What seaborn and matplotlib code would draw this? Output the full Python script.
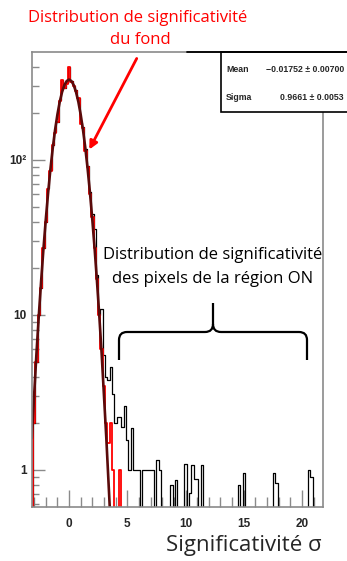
import numpy as np
import pandas as pd
import matplotlib
matplotlib.use("Agg")
import matplotlib.pyplot as plt
import seaborn as sns
from matplotlib.path import Path
from matplotlib.patches import PathPatch, Rectangle
from matplotlib.lines import Line2D
from matplotlib.ticker import FixedLocator, MultipleLocator, LogLocator, NullFormatter

# bins of width 0.2 sigma
bin_width = 0.2
bin_range = (-3.3, 21.7)
bin_centers = np.round(np.arange(-3.2, 21.7, 0.2), 2)

# background (OFF) histogram, bins centred -3.2 ... 4.6
bkg_counts = [0, 2.0, 5.0, 10, 15, 27, 40, 65, 85, 125, 150,
              175, 240, 330, 290, 310, 400, 320, 300, 280, 250,
              170, 160, 115, 90, 60, 43, 27, 17, 10, 6,
              3.5, 2.0, 1.5, 2.0, 1.0, 0, 0, 1.0, 0]

# ON region histogram, same core bins
on_core = [0, 2.0, 5.0, 10, 15, 27, 40, 66, 86, 125, 152,
           176, 242, 330, 292, 312, 400, 322, 302, 282, 252,
           172, 162, 118, 92, 62, 45, 36, 18, 10, 11,
           5.5, 4.0, 3.8, 4.6, 3.1, 2.0, 2.2, 2.2, 1.9]

# ON region tail (bin centre, value)
tail_centers = [4.8, 5.0, 5.2, 5.4, 5.6, 5.8, 6.0, 6.4, 6.6, 6.8, 7.0, 7.2,
                7.6, 7.8, 8.8, 9.2, 10.0, 10.4, 10.6, 10.8, 11.0, 11.4,
                14.6, 15.0, 17.6, 17.8, 20.6, 20.8]
tail_values = [2.6, 1.56, 1.0, 1.87, 1.0, 1.0, 1.0, 1.0, 1.0, 1.0, 1.0, 1.0,
               1.16, 1.0, 0.8, 0.86, 1.1, 0.71, 1.08, 0.88, 0.87, 1.08,
               0.8, 0.96, 0.96, 0.82, 1.0, 0.9]

# gaussian fit curve
fit_x = [-3.2, -3.0, -2.8, -2.6, -2.4, -2.2, -2.0, -1.8, -1.6, -1.4, -1.2, -1.0,
         -0.8, -0.6, -0.4, -0.2, 0.0, 0.2, 0.4, 0.6, 0.8, 1.0, 1.2, 1.4,
         1.6, 1.8, 2.0, 2.2, 2.4, 2.6, 2.8, 3.0, 3.2, 3.4, 3.6]
fit_y = [1.6, 3.0, 5.6, 9.8, 16.4, 26.5, 41, 61, 87, 119, 156, 196,
         237, 274, 304, 323, 330, 323, 304, 274, 237, 196, 156, 119,
         87, 61, 41, 26.5, 16.4, 9.8, 5.6, 3.0, 1.6, 0.8, 0.4]

x_ticks = [0, 5, 10, 15, 20]
y_ticks = [1, 10, 100]
y_tick_labels = ["1", "10", "10\u00b2"]

stats_names = ["Mean", "Sigma"]
stats_values = ["\u22120.01752 \u00b1 0.00700", "0.9661 \u00b1 0.0053"]

# build full tables
bkg = np.zeros(len(bin_centers))
bkg[:len(bkg_counts)] = bkg_counts
on = np.zeros(len(bin_centers))
on[:len(on_core)] = on_core
for c, v in zip(tail_centers, tail_values):
    on[np.argmin(np.abs(bin_centers - c))] = v
df = pd.DataFrame({"sig": bin_centers, "on": on, "bkg": bkg})
fit_df = pd.DataFrame({"x": fit_x, "y": fit_y})

sns.set_style("ticks")
plt.rcParams["font.family"] = ["Liberation Sans", "DejaVu Sans"]

W, H = 347, 561
fig = plt.figure(figsize=(W / 100, H / 100), dpi=100)


def fx(x, y):
    return (x / W, 1 - y / H)


ax = fig.add_axes([32 / W, 1 - 507 / H, (323 - 32) / W, (507 - 52) / H])

sns.histplot(data=df, x="sig", weights="on", binwidth=bin_width, binrange=bin_range,
             element="step", fill=False, color="black", linewidth=0.9, ax=ax)
sns.histplot(data=df, x="sig", weights="bkg", binwidth=bin_width, binrange=bin_range,
             element="step", fill=False, color="#ff0000", linewidth=1.3, ax=ax)
sns.lineplot(data=fit_df, x="x", y="y", color="#5a0a0a", linewidth=1.9, ax=ax)

ax.set_yscale("log")
ax.set_xlim(-3.18, 21.8)
ax.set_ylim(0.577, 497)
ax.set_xlabel("")
ax.set_ylabel("")

gray = "#8a8a8a"
for s in ax.spines.values():
    s.set_color(gray)
    s.set_linewidth(1.2)

ax.xaxis.set_major_locator(FixedLocator(x_ticks))
ax.xaxis.set_minor_locator(MultipleLocator(1))
ax.yaxis.set_major_locator(FixedLocator(y_ticks))
ax.yaxis.set_minor_locator(LogLocator(base=10, subs=np.arange(2, 10)))
ax.yaxis.set_minor_formatter(NullFormatter())
ax.set_xticklabels([str(t) for t in x_ticks], fontweight="bold", fontsize=8.5)
ax.set_yticklabels(y_tick_labels, fontweight="bold", fontsize=8.5)
ax.tick_params(which="both", direction="in", color=gray, width=1)
ax.tick_params(which="major", length=9, pad=4)
ax.tick_params(axis="x", which="major", length=12, pad=8)
ax.tick_params(which="minor", length=5)
ax.tick_params(axis="x", which="minor", length=7)

ann_font = ["Open Sans", "DejaVu Sans"]

# stats box
fig.add_artist(Rectangle(fx(221, 112), (350 - 221) / W, 60 / H, transform=fig.transFigure,
                         facecolor="white", edgecolor="black", linewidth=1.2))
fig.add_artist(Line2D([187 / W, 1], [1 - 52 / H, 1 - 52 / H], transform=fig.transFigure,
                      color="black", linewidth=1.3))
for i, (n, v) in enumerate(zip(stats_names, stats_values)):
    y = 70 + 27 * i
    fig.text(*fx(226, y), n, fontsize=6.3, fontweight="bold", va="center", ha="left")
    fig.text(*fx(344, y), v, fontsize=6.3, fontweight="bold", va="center", ha="right")

# red annotation
fig.text(*fx(138, 18), "Distribution de significativité", color="#ff0000",
         fontsize=12, family=ann_font, ha="center", va="center")
fig.text(*fx(140, 40), "du fond", color="#ff0000",
         fontsize=12, family=ann_font, ha="center", va="center")
ax.annotate("", xy=fx(88, 152), xytext=fx(138, 56), xycoords="figure fraction",
            textcoords="figure fraction",
            arrowprops=dict(arrowstyle="-|>", color="#ff0000", lw=2, mutation_scale=12))

# black annotation
fig.text(*fx(213, 255), "Distribution de significativité", color="black",
         fontsize=12, family=ann_font, ha="center", va="center")
fig.text(*fx(213, 279), "des pixels de la région ON", color="black",
         fontsize=12, family=ann_font, ha="center", va="center")

# curly brace
pts = [(119, 360), (119, 340), (119, 332), (127, 332), (205, 332), (213, 332), (213, 324),
       (213, 303), (213, 324), (213, 332), (221, 332), (299, 332), (307, 332), (307, 340),
       (307, 360)]
codes = [Path.MOVETO, Path.LINETO, Path.CURVE3, Path.CURVE3, Path.LINETO, Path.CURVE3,
         Path.CURVE3, Path.LINETO, Path.MOVETO, Path.CURVE3, Path.CURVE3, Path.LINETO,
         Path.CURVE3, Path.CURVE3, Path.LINETO]
brace = Path([fx(x, y) for x, y in pts], codes)
fig.add_artist(PathPatch(brace, transform=fig.transFigure, facecolor="none",
                         edgecolor="black", linewidth=1.6))

# axis title
fig.text(*fx(322, 545), "Significativité σ", fontsize=16, family=ann_font,
         ha="right", va="center")

fig.savefig("out.png", dpi=100)
